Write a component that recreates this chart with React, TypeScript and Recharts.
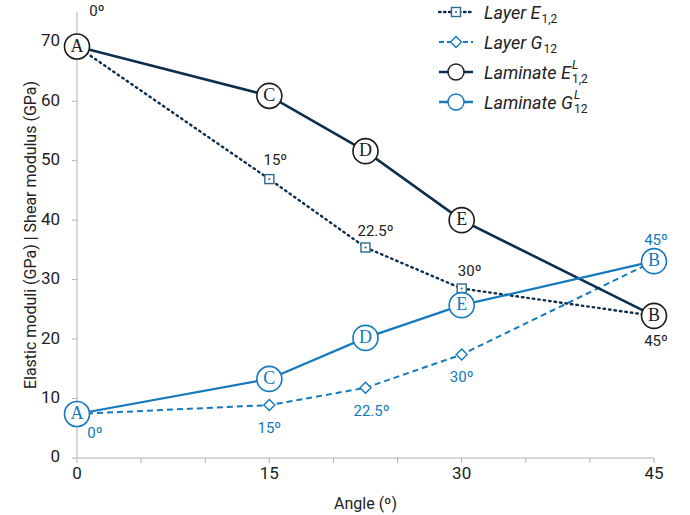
import { LineChart, Line, XAxis, YAxis } from 'recharts';

const angles = [0, 15, 22.5, 30, 45];
const layerE = [69.2, 46.9, 35.4, 28.5, 23.9];
const layerG = [7.4, 8.9, 11.8, 17.4, 33.1];
const laminateE = [69.2, 60.9, 51.6, 40.0, 23.9];
const laminateG = [7.4, 13.3, 20.2, 25.7, 33.1];
const pointLetters = ['A', 'C', 'D', 'E', 'B'];
const angleLabels = ['0º', '15º', '22.5º', '30º', '45º'];
const xTicks = [0, 5, 10, 15, 20, 25, 30, 35, 40, 45];
const yTicks = [0, 10, 20, 30, 40, 50, 60, 70];

const data = angles.map((a, i) => ({
    angle: a,
    layerE: layerE[i],
    layerG: layerG[i],
    laminateE: laminateE[i],
    laminateG: laminateG[i],
}));

const NAVY = '#0c2f4f';
const BLUE = '#1479bd';
const SQUARE = '#2b6a8c';
const FONT = 'Roboto, "Open Sans", sans-serif';

// label offsets relative to the marker, by point index
const eLabelOffset = [[20, -34], [6, -18], [10, -15], [8, -16], [2, 26]];
const gLabelOffset = [[18, 20], [0, 24], [6, 24], [0, 24], [2, -20]];

const SquareDot = (props: any) => {
    const { cx, cy, index } = props;
    if (cx == null || cy == null) return null;
    const [dx, dy] = eLabelOffset[index];
    return (
        <g key={`sq-${index}`}>
            {index !== 0 && index !== 4 && (
                <>
                    <rect x={cx - 4.5} y={cy - 4.5} width={9} height={9} fill="#fff" stroke={SQUARE} strokeWidth={1.4} />
                    <circle cx={cx} cy={cy} r={1.1} fill={SQUARE} />
                </>
            )}
            <text x={cx + dx} y={cy + dy} textAnchor="middle" dominantBaseline="middle" fontSize={15} fontFamily={FONT} fill="#222">
                {angleLabels[index]}
            </text>
        </g>
    );
};

const DiamondDot = (props: any) => {
    const { cx, cy, index } = props;
    if (cx == null || cy == null) return null;
    const [dx, dy] = gLabelOffset[index];
    return (
        <g key={`dm-${index}`}>
            {index !== 0 && index !== 4 && (
                <path d={`M${cx},${cy - 5.5} L${cx + 5.5},${cy} L${cx},${cy + 5.5} L${cx - 5.5},${cy} Z`} fill="#fff" stroke={BLUE} strokeWidth={1.4} />
            )}
            <text x={cx + dx} y={cy + dy} textAnchor="middle" dominantBaseline="middle" fontSize={15} fontFamily={FONT} fill={BLUE}>
                {angleLabels[index]}
            </text>
        </g>
    );
};

const letterDot = (stroke: string, textColor: string) => (props: any) => {
    const { cx, cy, index } = props;
    if (cx == null || cy == null) return null;
    return (
        <g key={`lt-${stroke}-${index}`}>
            <circle cx={cx} cy={cy} r={12.5} fill="#fff" stroke={stroke} strokeWidth={1.6} />
            <text x={cx} y={cy + 1} textAnchor="middle" dominantBaseline="middle" fontSize={18} fontFamily='"Liberation Serif", serif' fill={textColor}>
                {pointLetters[index]}
            </text>
        </g>
    );
};

const XTick = (props: any) => {
    const { x, y, payload } = props;
    if (payload.value % 15 !== 0) return null;
    return (
        <text x={x} y={y + 14} textAnchor="middle" fontSize={17} fontFamily={FONT} fill="#222">
            {payload.value}
        </text>
    );
};

const YTick = (props: any) => {
    const { x, y, payload } = props;
    return (
        <text x={x - 10} y={y} textAnchor="end" dominantBaseline="middle" fontSize={17} fontFamily={FONT} fill="#222">
            {payload.value}
        </text>
    );
};

const legendItems = [
    { key: 'le', name: 'Layer E', sub: '1,2', sup: '', kind: 'square' },
    { key: 'lg', name: 'Layer G', sub: '12', sup: '', kind: 'diamond' },
    { key: 'me', name: 'Laminate E', sub: '1,2', sup: 'L', kind: 'circleE' },
    { key: 'mg', name: 'Laminate G', sub: '12', sup: 'L', kind: 'circleG' },
];

function LegendIcon({ kind }: { kind: string }) {
    if (kind === 'square') {
        return (
            <svg width={36} height={16}>
                <line x1={1} y1={8} x2={35} y2={8} stroke={NAVY} strokeWidth={2.4} strokeDasharray="1.5 3.5" strokeLinecap="round" />
                <rect x={13.5} y={3.5} width={9} height={9} fill="#fff" stroke={SQUARE} strokeWidth={1.4} />
                <circle cx={18} cy={8} r={1.1} fill={SQUARE} />
            </svg>
        );
    }
    if (kind === 'diamond') {
        return (
            <svg width={36} height={16}>
                <line x1={1} y1={8} x2={35} y2={8} stroke={BLUE} strokeWidth={2} strokeDasharray="5 3" />
                <path d="M18,2.5 L23.5,8 L18,13.5 L12.5,8 Z" fill="#fff" stroke={BLUE} strokeWidth={1.4} />
            </svg>
        );
    }
    const isE = kind === 'circleE';
    return (
        <svg width={36} height={20}>
            <line x1={1} y1={10} x2={35} y2={10} stroke={isE ? NAVY : BLUE} strokeWidth={2.4} />
            <circle cx={18} cy={10} r={8} fill="#fff" stroke={isE ? '#222' : BLUE} strokeWidth={1.4} />
        </svg>
    );
}

function ChartLegend() {
    return (
        <div style={{ position: 'absolute', left: 438, top: -3, fontFamily: FONT, fontStyle: 'italic', fontSize: 18, color: '#222' }}>
            {legendItems.map((it) => (
                <div key={it.key} style={{ display: 'flex', alignItems: 'center', height: 30 }}>
                    <LegendIcon kind={it.kind} />
                    <span style={{ marginLeft: 10, display: 'inline-flex', alignItems: 'center' }}>
                        {it.name}
                        <span style={{ display: 'inline-flex', flexDirection: 'column', fontSize: 12, lineHeight: '11px', marginLeft: 1, fontStyle: 'normal' }}>
                            <span style={{ fontStyle: 'italic', visibility: it.sup ? 'visible' : 'hidden' }}>{it.sup || 'L'}</span>
                            <span style={{ marginTop: 3 }}>{it.sub}</span>
                        </span>
                    </span>
                </div>
            ))}
        </div>
    );
}

export default function App() {
    return (
        <div style={{ position: 'absolute', left: 0, top: 0, width: 690, height: 515, background: '#fff' }}>
            <LineChart width={690} height={515} data={data} margin={{ top: 12, right: 36, left: 0, bottom: 0 }}>
                <XAxis
                    dataKey="angle"
                    type="number"
                    domain={[0, 45]}
                    ticks={xTicks}
                    interval={0}
                    height={57}
                    tick={<XTick />}
                    tickSize={5}
                    stroke="#b0b0b0"
                    tickLine={{ stroke: '#b0b0b0' }}
                    label={{ value: 'Angle (º)', position: 'insideBottom', offset: 6, fontSize: 16, fontFamily: FONT, fill: '#222' }}
                />
                <YAxis
                    type="number"
                    domain={[0, 75]}
                    ticks={yTicks}
                    interval={0}
                    width={77}
                    tickSize={5}
                    stroke="#b0b0b0"
                    tick={<YTick />}
                    tickLine={{ stroke: '#b0b0b0' }}
                    label={{ value: 'Elastic moduli (GPa) | Shear modulus (GPa)', angle: -90, position: 'insideLeft', offset: 30, style: { textAnchor: 'middle' }, fontSize: 16, fontFamily: FONT, fill: '#222' }}
                />
                <Line dataKey="layerE" stroke={NAVY} strokeWidth={2.4} strokeDasharray="1.5 4" strokeLinecap="round" dot={SquareDot} activeDot={false} isAnimationActive={false} />
                <Line dataKey="layerG" stroke={BLUE} strokeWidth={2} strokeDasharray="6 4" dot={DiamondDot} activeDot={false} isAnimationActive={false} />
                <Line dataKey="laminateE" stroke={NAVY} strokeWidth={2.6} dot={letterDot('#1a1a1a', '#1a1a1a')} activeDot={false} isAnimationActive={false} />
                <Line dataKey="laminateG" stroke={BLUE} strokeWidth={2.2} dot={letterDot(BLUE, BLUE)} activeDot={false} isAnimationActive={false} />
            </LineChart>
            <ChartLegend />
        </div>
    );
}
